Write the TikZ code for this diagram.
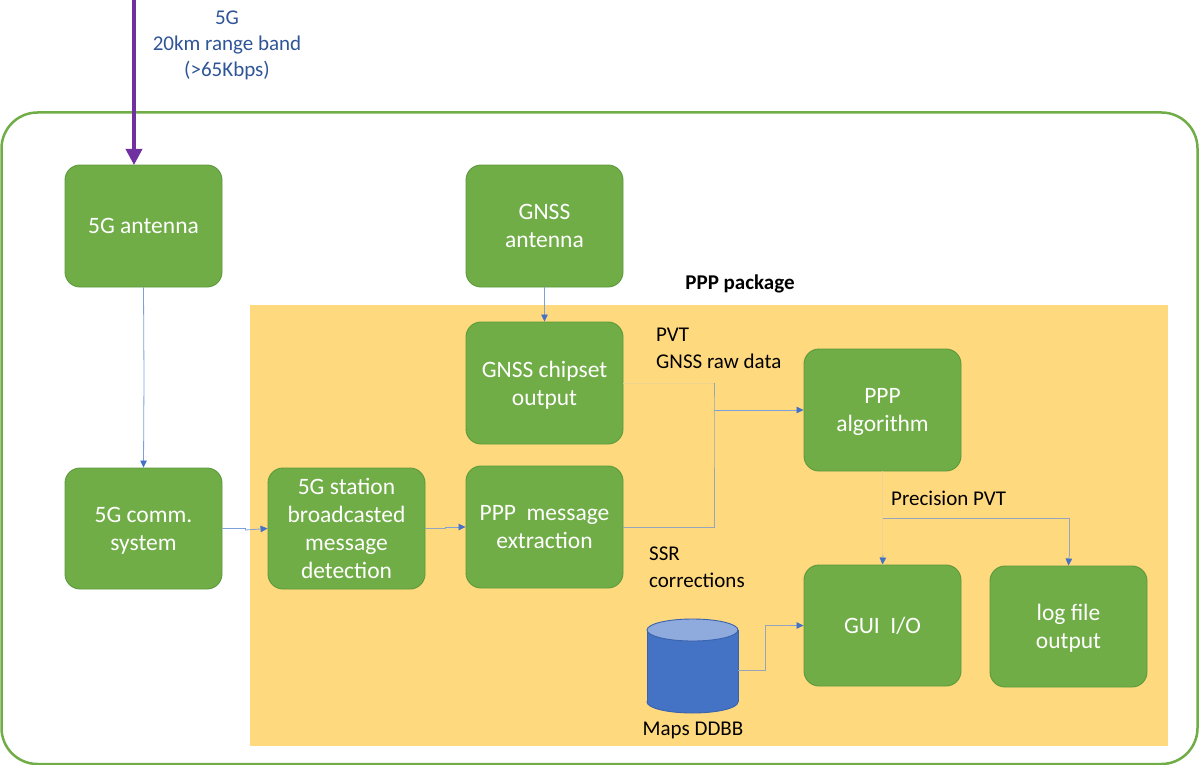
\documentclass[tikz,border=0pt]{standalone}
\usepackage{fontspec}
\setmainfont{Carlito}
\usetikzlibrary{arrows.meta}
\definecolor{boxgreen}{HTML}{70AD47}
\definecolor{boxedge}{HTML}{5B9A3C}
\definecolor{frame}{HTML}{70AD47}
\definecolor{pale}{HTML}{FFD97D}
\definecolor{linkblue}{HTML}{4472C4}
\definecolor{linksoft}{HTML}{7F9FD8}
\definecolor{linkgrey}{HTML}{95A6BC}
\definecolor{linkpale}{HTML}{EFD28E}
\definecolor{bandblue}{HTML}{2F5597}
\definecolor{bandpurple}{HTML}{7030A0}
\definecolor{cyltop}{HTML}{8FAADC}
\definecolor{cyledge}{HTML}{3A63AE}
\tikzset{
  x=1pt,y=-1pt,
  block/.style={draw=boxedge,line width=0.9pt,fill=boxgreen,rounded corners=15pt,minimum width=157pt,minimum height=122pt,inner sep=0pt,
    align=center,text=white,text depth=-2pt,font=\fontsize{23.5}{28}\selectfont},
  note/.style={inner sep=0pt,align=left,text=black,font=\fontsize{21}{27}\selectfont},
  link/.style={draw=linksoft,line width=0.8pt},
  greylink/.style={draw=linkgrey,line width=1pt},
  palelink/.style={draw=linkpale,line width=1pt},
  tip/.style={-{Triangle[length=7pt,width=6.5pt,fill=linkblue,color=linkblue]}},
}
\begin{document}
\begin{tikzpicture}
\useasboundingbox (0,0) rectangle (1199,765);
\draw[draw=frame,line width=2.5pt,rounded corners=36pt] (1.5,112.5) rectangle (1197.5,764);
\fill[pale] (250,305) rectangle (1168,746);

\node[block] (ant5g) at (143.5,226) {5G antenna};
\node[block] (antgnss) at (544.5,226) {GNSS\\antenna};
\node[block] (chip) at (544.5,383) {GNSS chipset\\output};
\node[block] (extract) at (544.5,527) {PPP~~message\\extraction};
\node[block,minimum height=121pt] (comm) at (143.5,528.5) {5G comm.\\system};
\node[block,minimum height=121pt] (detect) at (346.5,528.5) {5G station\\broadcasted\\message\\detection};
\node[block] (algo) at (882.5,410) {PPP\\algorithm};
\node[block,minimum height=121pt] (gui) at (882.5,625.5) {GUI~~I/O};
\node[block,minimum height=121pt] (log) at (1068.5,626.5) {log file\\output};

\node[minimum width=91pt,minimum height=94pt,inner sep=0pt] (maps) at (692.5,666) {};
\draw[draw=cyledge,line width=0.9pt,fill=linkblue] (692.5,702) ellipse [x radius=45.5pt,y radius=11pt];
\fill[linkblue] (647,630) rectangle (738,702);
\draw[draw=cyledge,line width=0.9pt] (647,630) -- (647,702) (738,630) -- (738,702);
\draw[draw=cyledge,line width=0.9pt,fill=cyltop] (692.5,630) ellipse [x radius=45.5pt,y radius=11pt];

\node[inner sep=0pt,align=center,text=bandblue,font=\fontsize{21}{26}\selectfont] (band) at (227,45) {5G\\20km range band\\(>65Kbps)};
\node[inner sep=0pt,font=\bfseries\fontsize{21}{24}\selectfont] (pkg) at (740,284) {PPP package};
\node[note,anchor=west] (pvt) at (656,348.5) {PVT\\GNSS raw data};
\node[note,anchor=west] (prec) at (891,498) {Precision PVT};
\node[note,anchor=west] (ssr) at (649,567) {SSR\\corrections};
\node[note] (mapslabel) at (693,730) {Maps DDBB};

\coordinate (top) at (134,0);
\coordinate (anttop) at (134,165);
\draw[draw=bandpurple,line width=3.6pt,-{Triangle[length=16pt,width=16pt,fill=bandpurple,color=bandpurple]}] (top) -- (anttop);

\coordinate (j1) at (714,410);
\coordinate (j2) at (883,518);
\coordinate (mapsout) at (738,670);
\draw[link,tip] (ant5g.south) -- (144,378) -- (comm.north);
\draw[link,tip] (antgnss.south) -- (chip.north);
\draw[link,tip] (comm.east) -- ++(23,0) -- ++(0,1.5) -- (detect.east -| detect.west);
\draw[greylink] (detect.east) -- ++(20,0) -- ++(0,-1.5) -- ++(3,0);
\draw[link,tip] (445,527) -- (extract.west);
\draw[palelink] (chip.east) -- (714,383);
\draw[greylink] (714,383) -- (j1) -- (714,527) -- (extract.east);
\draw[greylink] (j1) -- (790,410);
\draw[link,tip] (j1) -- (algo.west);
\draw[palelink] (algo.south) -- (gui.north);
\draw[link,tip] (883,555) -- (gui.north);
\draw[greylink] (j2) -- (1069,518) -- (1069,556);
\draw[link,tip] (1069,556) -- (log.north);
\draw[greylink] (mapsout) -- (765,670) -- (765,625.5) -- (790,625.5);
\draw[link,tip] (790,625.5) -- (gui.west);
\end{tikzpicture}
\end{document}
